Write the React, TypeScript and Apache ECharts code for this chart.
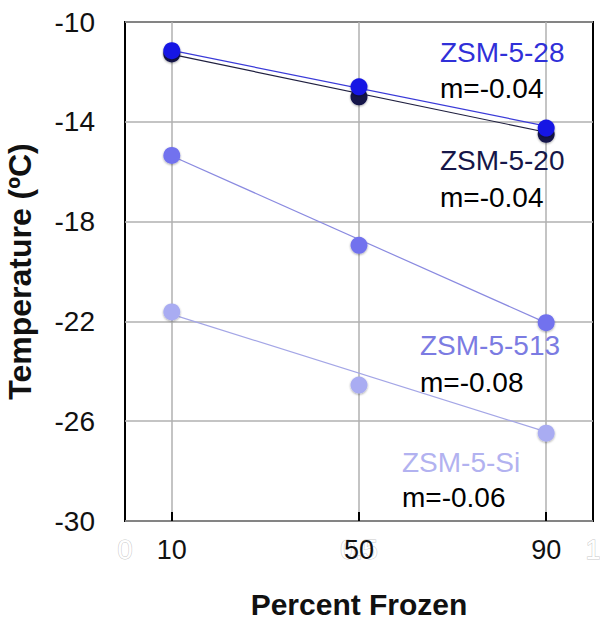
import React, { useEffect, useRef } from "react";
import * as echarts from "echarts";

const xValues = [10, 50, 90];
const xTicks = [10, 50, 90];
const yTicks = [-30, -26, -22, -18, -14, -10];
const fitX = [10, 90];

const zsm28 = [-11.15, -12.6, -14.25];
const zsm20 = [-11.28, -13.0, -14.5];
const zsm513 = [-15.35, -18.95, -22.05];
const zsmSi = [-21.62, -24.55, -26.48];

const fit28 = [-11.14, -14.17];
const fit20 = [-11.3, -14.42];
const fit513 = [-15.37, -22.06];
const fitSi = [-21.72, -26.43];

const FONT = "'Liberation Sans', Arial, sans-serif";

const pairs = (xs: number[], ys: number[]) => xs.map((x, i) => [x, ys[i]]);

export default function App() {
  const ref = useRef<HTMLDivElement>(null);
  useEffect(() => {
    if (!ref.current) return;
    const chart = echarts.init(ref.current, null, { renderer: "svg" });
    const groups = [
      { name: "ZSM-5-Si", pts: zsmSi, fit: fitSi, marker: "#a9acf2", line: "#a4a6e6" },
      { name: "ZSM-5-513", pts: zsm513, fit: fit513, marker: "#7272ee", line: "#8a8ae0" },
      { name: "ZSM-5-20", pts: zsm20, fit: fit20, marker: "#12124a", line: "#202040" },
      { name: "ZSM-5-28", pts: zsm28, fit: fit28, marker: "#1616e4", line: "#3a3ad8" },
    ];
    const series: any[] = [];
    groups.forEach((g) => {
      series.push({
        type: "line",
        name: g.name + " fit",
        data: pairs(fitX, g.fit),
        showSymbol: false,
        symbol: "none",
        lineStyle: { color: g.line, width: 1.2 },
        z: 2,
      });
    });
    groups.forEach((g) => {
      series.push({
        type: "scatter",
        name: g.name,
        data: pairs(xValues, g.pts),
        symbol: "circle",
        symbolSize: 17,
        itemStyle: {
          color: g.marker,
          opacity: 1,
          shadowBlur: 2,
          shadowOffsetY: 1,
          shadowColor: "rgba(0,0,0,0.35)",
        },
        z: 3,
      });
    });
    const txt = (text: string, x: number, y: number, fill: string) => ({
      type: "text",
      x,
      y,
      style: {
        text,
        fill,
        font: `28px ${FONT}`,
        textAlign: "left",
        textVerticalAlign: "middle",
      },
      z: 10,
    });
    chart.setOption({
      animation: false,
      backgroundColor: "#ffffff",
      grid: {
        left: 125,
        right: 7,
        top: 22,
        bottom: 99,
        outerBoundsMode: "none",
        containLabel: false,
        show: true,
        borderColor: "#000",
        borderWidth: 2,
        backgroundColor: "transparent",
      },
      xAxis: [
        {
          type: "value",
          min: 0,
          max: 100,
          position: "bottom",
          z: 2,
          axisLine: { show: false },
          axisTick: {
            show: true,
            inside: true,
            length: 9,
            customValues: xTicks,
            lineStyle: { color: "#000", width: 2 },
          },
          splitLine: { show: true, lineStyle: { color: "#b0b0b0", width: 1.5 } },
          axisLabel: {
            customValues: xTicks,
            color: "#111",
            fontSize: 27,
            fontFamily: FONT,
            margin: 15,
          },
          name: "Percent Frozen",
          nameLocation: "middle",
          nameGap: 68,
          nameTextStyle: { fontSize: 30, fontWeight: "bold", color: "#111", fontFamily: FONT },
        },
        {
          type: "value",
          min: 0,
          max: 1,
          interval: 0.5,
          position: "bottom",
          z: 1,
          axisLine: { show: false },
          axisTick: { show: false },
          splitLine: { show: false },
          axisLabel: {
            color: "#ffffff",
            textBorderColor: "#c8c8c8",
            textBorderWidth: 1,
            fontSize: 27,
            fontFamily: FONT,
            margin: 15,
          },
        },
      ],
      yAxis: {
        type: "value",
        min: -30,
        max: -10,
        axisLine: { show: false },
        axisTick: { show: false, customValues: yTicks },
        splitLine: { show: true, lineStyle: { color: "#b0b0b0", width: 1.5 } },
        axisLabel: {
          customValues: yTicks,
          color: "#111",
          fontSize: 28,
          fontFamily: FONT,
          margin: 30,
        },
        name: "Temperature (ºC)",
        nameLocation: "middle",
        nameGap: 89,
        nameTextStyle: { fontSize: 32, fontWeight: "bold", color: "#111", fontFamily: FONT },
      },
      series,
      graphic: [
        txt("ZSM-5-28", 440, 52, "#3030d8"),
        txt("m=-0.04", 440, 88, "#000"),
        txt("ZSM-5-20", 440, 160, "#161648"),
        txt("m=-0.04", 440, 197, "#000"),
        txt("ZSM-5-513", 420, 345, "#7b7be2"),
        txt("m=-0.08", 420, 382, "#000"),
        txt("ZSM-5-Si", 402, 462, "#b2b2f0"),
        txt("m=-0.06", 402, 497, "#000"),
      ],
    });
    return () => chart.dispose();
  }, []);
  return (
    <div
      ref={ref}
      style={{ position: "fixed", left: 0, top: 0, width: 600, height: 620 }}
    />
  );
}
